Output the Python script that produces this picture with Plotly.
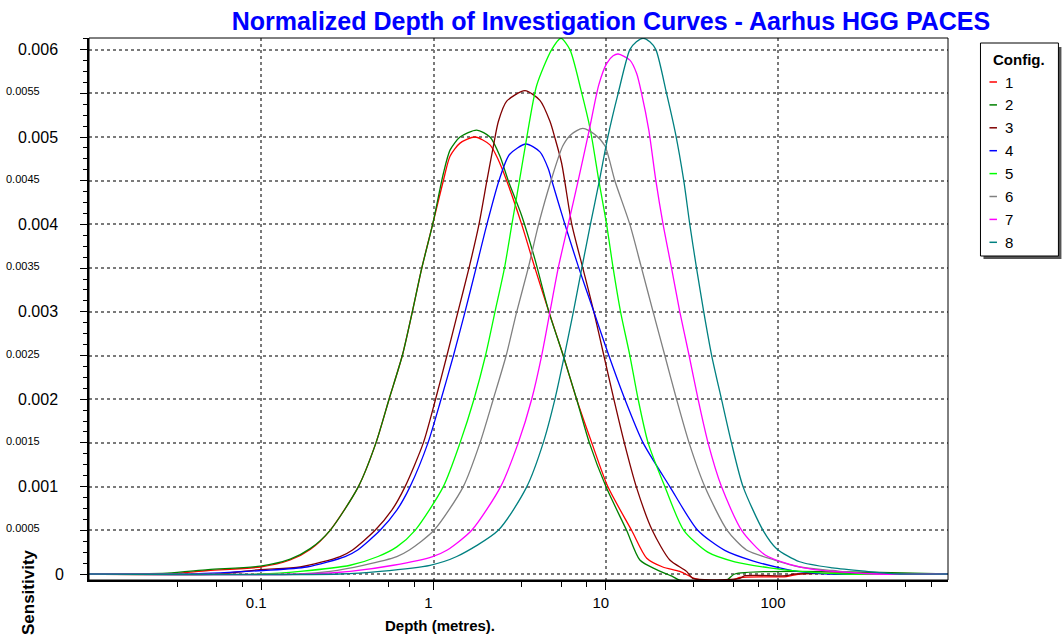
import plotly.graph_objects as go

# ---------------- data ----------------
names = ["1", "2", "3", "4", "5", "6", "7", "8"]
colors = ["#FF0000", "#008000", "#800000", "#0000FF",
          "#00FF00", "#808080", "#FF00FF", "#008080"]

# log10(depth in metres) and sensitivity for each configuration
ld1 = [-2.0, -1.546, -1.308, -1.006, -0.832, -0.716, -0.600, -0.436, -0.334, -0.258, -0.181, -0.123,
       -0.068, -0.005, 0.057, 0.096, 0.154, 0.241, 0.328, 0.376, 0.425, 0.512, 0.589, 0.670, 0.753,
       0.831, 0.919, 1.012, 1.150, 1.238, 1.331, 1.430, 1.528, 1.737, 1.778, 2.050, 2.126, 2.987]
s1 = [0, 0, 0.00004, 0.00008, 0.00016, 0.00028, 0.0005, 0.001, 0.0015, 0.002, 0.0025, 0.003,
      0.0035, 0.004, 0.0045, 0.00478, 0.00493, 0.0050, 0.00491, 0.00474, 0.0045, 0.004, 0.0035, 0.003, 0.0025,
      0.002, 0.0015, 0.001, 0.0005, 0.00018, 0.00008, 0.00003, -0.00006, -0.00007, -0.00004, -0.00003, 0, 0]

ld2 = [-2.0, -1.546, -1.308, -1.006, -0.832, -0.716, -0.600, -0.436, -0.334, -0.258, -0.181, -0.123,
       -0.068, -0.005, 0.057, 0.096, 0.154, 0.251, 0.328, 0.386, 0.434, 0.512, 0.589, 0.670, 0.753,
       0.831, 0.905, 1.001, 1.121, 1.198, 1.295, 1.389, 1.430, 1.702, 1.749, 2.987]
s2 = [0, 0.00001, 0.00005, 0.00009, 0.00017, 0.00029, 0.0005, 0.001, 0.0015, 0.002, 0.0025, 0.003,
      0.0035, 0.004, 0.00458, 0.00485, 0.0050, 0.00508, 0.0050, 0.00478, 0.0045, 0.0041, 0.0036, 0.003, 0.0025,
      0.002, 0.0015, 0.001, 0.0005, 0.00016, 0.00005, -0.00003, -0.00007, -0.00007, 0, 0]

ld3 = [-2.0, -1.256, -1.006, -0.774, -0.542, -0.470, -0.339, -0.242, -0.165, -0.059, 0.012, 0.078, 0.142,
       0.206, 0.264, 0.310, 0.348, 0.377, 0.425, 0.531, 0.618, 0.676, 0.705, 0.744, 0.803, 0.867,
       0.931, 0.989, 1.047, 1.108, 1.177, 1.270, 1.372, 1.469, 1.505, 1.778, 1.807, 2.050, 2.097, 2.987]
s3 = [0, 0, 0.00005, 0.00008, 0.0002, 0.000275, 0.0005, 0.00073, 0.001, 0.0015, 0.002, 0.0025, 0.003,
      0.0035, 0.004, 0.0045, 0.0049, 0.00518, 0.00541, 0.00553, 0.00542, 0.00518, 0.00499, 0.0047, 0.004, 0.0035,
      0.003, 0.0025, 0.002, 0.0015, 0.001, 0.0005, 0.00016, 0.00003, -0.00005, -0.00005, -0.00002, -0.00002, 0, 0]

ld4 = [-2.0, -1.412, -0.989, -0.736, -0.513, -0.440, -0.310, -0.213, -0.136, -0.032, 0.044, 0.116, 0.183,
       0.247, 0.310, 0.380, 0.441, 0.537, 0.618, 0.666, 0.687, 0.763, 0.844, 0.931, 1.018, 1.111,
       1.217, 1.372, 1.534, 1.691, 1.853, 2.010, 2.108, 2.300, 2.987]
s4 = [0, 0, 0.00004, 0.00008, 0.0002, 0.000275, 0.0005, 0.00073, 0.001, 0.0015, 0.002, 0.0025, 0.003,
      0.0035, 0.004, 0.0045, 0.0048, 0.00492, 0.00483, 0.00464, 0.0045, 0.004, 0.0035, 0.003, 0.0025, 0.002,
      0.0015, 0.001, 0.0005, 0.00027, 0.00015, 0.00007, 0.00003, 0, 0]

ld5 = [-2.0, -1.006, -0.774, -0.484, -0.322, -0.213, -0.107, 0.057, 0.154, 0.235, 0.302, 0.357, 0.412,
       0.455, 0.499, 0.542, 0.599, 0.686, 0.740, 0.792, 0.856, 0.911, 0.960, 1.005, 1.043, 1.086,
       1.140, 1.188, 1.246, 1.343, 1.453, 1.592, 1.749, 1.952, 2.126, 2.387, 2.987]
s5 = [0, 0, 0.00003, 0.0001, 0.0002, 0.00031, 0.0005, 0.001, 0.0015, 0.002, 0.0025, 0.003, 0.0035,
      0.004, 0.0045, 0.0050, 0.00559, 0.0060, 0.00613, 0.0060, 0.00554, 0.00508, 0.0045, 0.004, 0.0035, 0.003,
      0.0025, 0.002, 0.0015, 0.001, 0.0005, 0.00025, 0.00014, 0.00007, 0.00003, 0, 0]

ld6 = [-2.0, -0.774, -0.600, -0.409, -0.213, -0.140, 0.003, 0.173, 0.270, 0.347, 0.422, 0.483,
       0.550, 0.610, 0.682, 0.751, 0.799, 0.867, 0.937, 0.995, 1.053, 1.140, 1.208, 1.275, 1.343,
       1.411, 1.484, 1.575, 1.705, 1.817, 1.981, 2.126, 2.317, 2.532, 2.987]
s6 = [0, 0, 0.00003, 0.0001, 0.0002, 0.000275, 0.0005, 0.001, 0.0015, 0.002, 0.0025, 0.003,
      0.0035, 0.004, 0.0045, 0.0049, 0.00503, 0.0051, 0.00503, 0.0049, 0.0045, 0.004, 0.0035, 0.003, 0.0025,
      0.002, 0.0015, 0.001, 0.0005, 0.000275, 0.00016, 0.00008, 0.00004, 0, 0]

ld7 = [-2.0, -0.716, -0.484, -0.233, -0.005, 0.080, 0.222, 0.390, 0.492, 0.570, 0.628, 0.676,
       0.724, 0.782, 0.840, 0.904, 0.960, 1.005, 1.043, 1.072, 1.140, 1.179, 1.208, 1.250, 1.291,
       1.333, 1.382, 1.430, 1.484, 1.536, 1.594, 1.672, 1.789, 1.923, 2.068, 2.213, 2.572, 2.987]
s7 = [0, 0, 0.00003, 0.0001, 0.0002, 0.000275, 0.0005, 0.001, 0.0015, 0.002, 0.0025, 0.003,
      0.0035, 0.004, 0.0045, 0.00508, 0.0056, 0.00584, 0.00593, 0.00595, 0.00588, 0.00573, 0.0055, 0.00508, 0.0045,
      0.004, 0.0035, 0.003, 0.0025, 0.002, 0.0015, 0.001, 0.0005, 0.00022, 0.00011, 0.00005, 0, 0]

ld8 = [-2.0, -0.542, -0.310, -0.020, 0.135, 0.376, 0.542, 0.637, 0.705, 0.760, 0.812, 0.861,
       0.911, 0.963, 1.012, 1.072, 1.140, 1.178, 1.217, 1.256, 1.291, 1.353, 1.404, 1.453, 1.488,
       1.527, 1.569, 1.615, 1.672, 1.730, 1.797, 1.913, 1.992, 2.126, 2.317, 2.515, 2.706, 2.987]
s8 = [0, 0, 0.00003, 0.0001, 0.0002, 0.0005, 0.001, 0.0015, 0.002, 0.0025, 0.003, 0.0035,
      0.004, 0.0045, 0.0050, 0.0055, 0.006, 0.00609, 0.00613, 0.00609, 0.006, 0.0055, 0.00505, 0.0045, 0.004,
      0.0035, 0.003, 0.0025, 0.002, 0.0015, 0.001, 0.0005, 0.00029, 0.00014, 0.00007, 0.00003, 0, 0]

log_depths = [ld1, ld2, ld3, ld4, ld5, ld6, ld7, ld8]
sens = [s1, s2, s3, s4, s5, s6, s7, s8]

x_tick_vals = [0.1, 1, 10, 100]
x_tick_text = ["0.1", "1", "10", "100"]
x_minor_mult = [3.25, 5.5, 7.75]
x_minor_decades = [0.01, 0.1, 1, 10, 100]

y_major_vals = [0, 0.001, 0.002, 0.003, 0.004, 0.005, 0.006]
y_major_text = ["0", "0.001", "0.002", "0.003", "0.004", "0.005", "0.006"]
y_minor_vals = [0.0005, 0.0015, 0.0025, 0.0035, 0.0045, 0.0055]
y_minor_text = ["0.0005", "0.0015", "0.0025", "0.0035", "0.0045", "0.0055"]

title_text = "Normalized Depth of Investigation Curves - Aarhus HGG PACES"
x_title = "Depth (metres)."
y_title = "Sensitivity"
legend_title = "Config."

# ---------------- layout geometry ----------------
W, H = 1062, 640
L, R, T, B = 89, 948.5, 38, 580
FONT = "Liberation Sans, Arial, sans-serif"


def px_x(p):
    return (p - L) / (R - L)


def px_y(p):
    return (B - p) / (B - T)


fig = go.Figure()
for name, col, ld, s in zip(names, colors, log_depths, sens):
    fig.add_trace(go.Scatter(
        x=[10 ** v for v in ld], y=s, mode="lines", name=name,
        line=dict(color=col, width=1.3, shape="spline", smoothing=0.7),
        showlegend=False, hoverinfo="x+y+name"))

minor_x = [d * m for d in x_minor_decades for m in x_minor_mult]

fig.update_layout(
    width=W, height=H,
    margin=dict(l=L, r=W - R, t=T, b=H - B, pad=0),
    paper_bgcolor="white", plot_bgcolor="white",
    font=dict(family=FONT, color="black"),
    showlegend=False,
    title=dict(text="<b>" + title_text + "</b>", x=611 / W, xref="container", xanchor="center",
               y=1 - 21 / H, yref="container", yanchor="middle",
               font=dict(size=25, color="#0000FF", family=FONT)),
    xaxis=dict(type="log", range=[-2, 2.987], tickmode="array", tickvals=x_tick_vals,
               ticktext=x_tick_text, ticks="outside", ticklen=8, tickwidth=1, tickcolor="black",
               tickfont=dict(size=15, family=FONT), ticklabelshift=-5,
               showgrid=True, gridcolor="#7a7a7a", griddash="dot", gridwidth=1.5,
               showline=True, linecolor="black", linewidth=2, zeroline=False,
               minor=dict(tickmode="array", tickvals=minor_x, ticks="outside", ticklen=5,
                          tickcolor="black", tickwidth=1, showgrid=False)),
    yaxis=dict(range=[-0.0000687, 0.006133], tickmode="array",
               tickvals=sorted(y_major_vals + y_minor_vals), showticklabels=False,
               ticks="outside", ticklen=7, tickcolor="black", tickwidth=1,
               showgrid=True, gridcolor="#7a7a7a", griddash="dot", gridwidth=1.5,
               showline=True, linecolor="black", linewidth=2, zeroline=False,
               minor=dict(dtick=0.000125, tick0=0, ticks="outside", ticklen=4,
                          tickcolor="black", tickwidth=1, showgrid=False)),
)

shapes = []
annotations = []

# thin top/right frame
shapes.append(dict(type="rect", xref="paper", yref="paper", x0=0, x1=1, y0=0, y1=1,
                   line=dict(color="black", width=1), layer="above"))

# y tick labels
for v, t in zip(y_major_vals, y_major_text):
    right = 66 if t == "0" else 60
    annotations.append(dict(x=0, xref="paper", y=v, yref="y", text=t, showarrow=False,
                            xanchor="right", yanchor="middle", xshift=right - L,
                            font=dict(size=16, family=FONT, color="black")))
for v, t in zip(y_minor_vals, y_minor_text):
    annotations.append(dict(x=0, xref="paper", y=v, yref="y", text=t, showarrow=False,
                            xanchor="right", yanchor="middle", xshift=42 - L, yshift=2,
                            font=dict(size=11, family=FONT, color="black")))

# axis titles
annotations.append(dict(x=px_x(440), y=px_y(625), xref="paper", yref="paper",
                        text="<b>" + x_title + "</b>", showarrow=False,
                        xanchor="center", yanchor="middle",
                        font=dict(size=15, family=FONT, color="black")))
annotations.append(dict(x=px_x(28), y=px_y(592), xref="paper", yref="paper",
                        text="<b>" + y_title + "</b>", showarrow=False, textangle=-90,
                        xanchor="center", yanchor="middle",
                        font=dict(size=17, family=FONT, color="black")))

# custom legend box with shadow
shapes.append(dict(type="rect", xref="paper", yref="paper",
                   x0=px_x(984), x1=px_x(1062), y0=px_y(259), y1=px_y(47),
                   fillcolor="#555555", line=dict(width=0), layer="above"))
shapes.append(dict(type="rect", xref="paper", yref="paper",
                   x0=px_x(981), x1=px_x(1059), y0=px_y(256), y1=px_y(43),
                   fillcolor="white", line=dict(color="black", width=1), layer="above"))
annotations.append(dict(x=px_x(1020), y=px_y(59), xref="paper", yref="paper",
                        text="<b>" + legend_title + "</b>", showarrow=False,
                        xanchor="center", yanchor="middle",
                        font=dict(size=15, family=FONT, color="black")))
for i, (name, col) in enumerate(zip(names, colors)):
    yc = 82 + i * 22.9
    shapes.append(dict(type="line", xref="paper", yref="paper",
                       x0=px_x(990), x1=px_x(997.5), y0=px_y(yc), y1=px_y(yc),
                       line=dict(color=col, width=1.5), layer="above"))
    annotations.append(dict(x=px_x(1004), y=px_y(yc), xref="paper", yref="paper",
                            text=name, showarrow=False, xanchor="left", yanchor="middle",
                            font=dict(size=15, family=FONT, color="black")))

fig.update_layout(shapes=shapes, annotations=annotations)
fig.write_html("out.html", config={"displayModeBar": False},
               post_script="document.body.style.margin='0px';document.body.style.padding='0px';")
